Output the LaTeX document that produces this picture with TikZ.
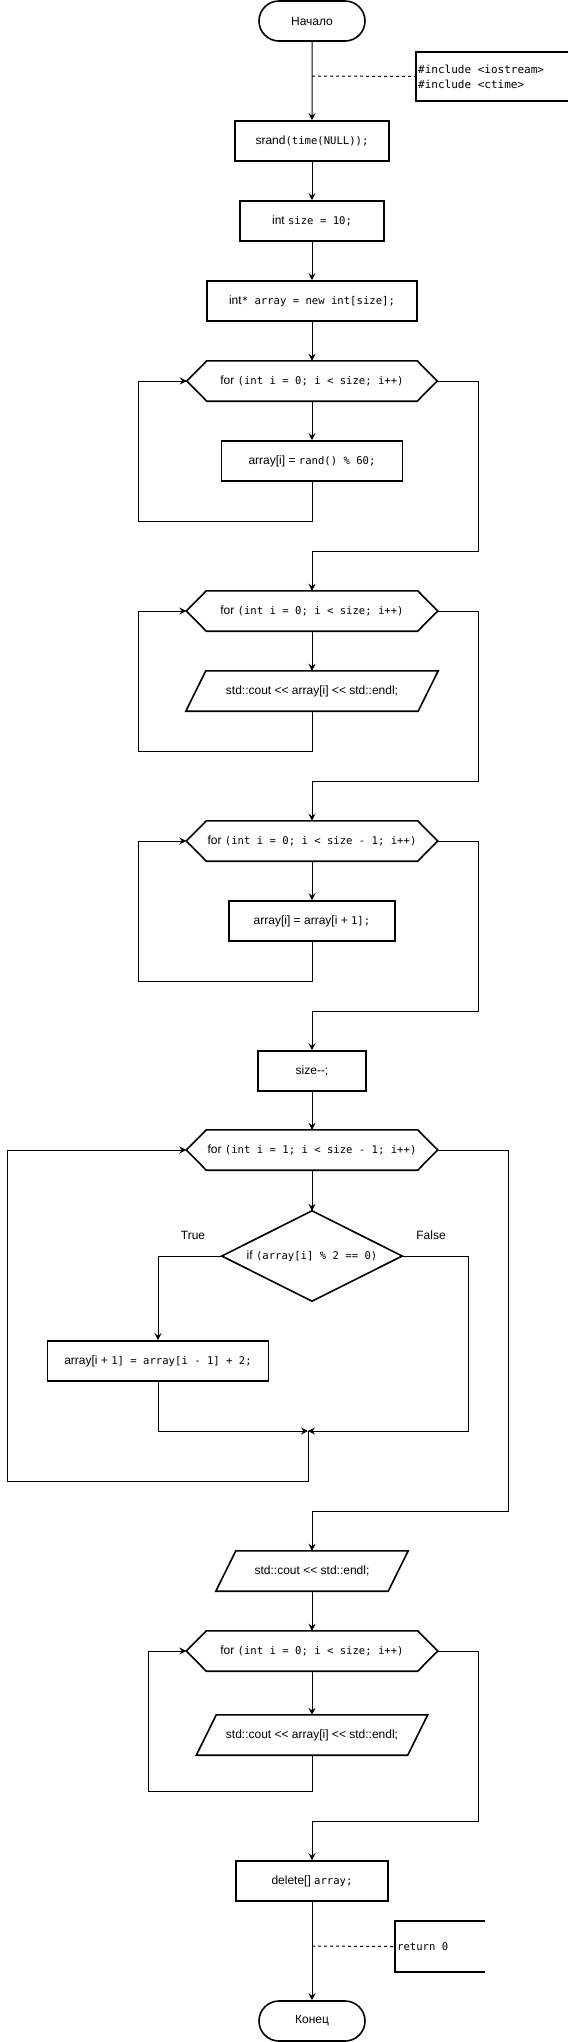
\documentclass[tikz,border=0pt]{standalone}
\usepackage{fontspec}
\setmainfont{Liberation Sans}[Ligatures=TeXOff]
\newfontfamily\cfont{DejaVu Sans Mono}[Ligatures=TeXOff]
\usetikzlibrary{arrows.meta,shapes.misc}
\newcommand{\cd}[1]{{\cfont\fontsize{10.6}{12}\selectfont #1}}
\newcommand{\drawHex}[1]{\draw[shp] (#1.west) -- ([xshift=20pt]#1.north west) -- ([xshift=-20pt]#1.north east) -- (#1.east) -- ([xshift=-20pt]#1.south east) -- ([xshift=20pt]#1.south west) -- cycle;}
\newcommand{\drawPar}[1]{\draw[shp] ([xshift=20pt]#1.north west) -- (#1.north east) -- ([xshift=-20pt]#1.south east) -- (#1.south west) -- cycle;}
\begin{document}
\begin{tikzpicture}[x=1pt,y=-1pt,
  font=\fontsize{12}{14}\selectfont,
  box/.style={draw, line width=1.6pt, minimum height=40pt, inner sep=0pt},
  plain/.style={minimum height=40pt, inner sep=0pt},
  term/.style={draw, rounded rectangle, line width=1.6pt, minimum width=106pt, minimum height=40pt, inner sep=0pt},
  shp/.style={line width=1.6pt, line join=miter},
  conn/.style={line width=1pt, -{Stealth[length=7pt,width=7pt,inset=2.5pt]}},
  wire/.style={line width=1pt},
  note/.style={line width=1pt, dash pattern=on 3pt off 3pt}]
\useasboundingbox (0,0) rectangle (569,2042);

% nodes
\node[term] (start) at (312,21) {Начало};
\node[box, minimum width=154pt] (srand) at (312,141) {srand\cd{(time(NULL));}};
\node[box, minimum width=144pt] (size) at (312,221) {int \cd{size = 10;}};
\node[box, minimum width=210pt] (arr) at (312,301) {int\cd{* array = new int[size];}};
\node[plain, minimum width=250pt] (h1) at (312,381) {for \cd{(int i = 0; i < size; i++)}};
\node[box, minimum width=181pt] (b1) at (312,461) {array[i] = \cd{rand() \% 60;}};
\node[plain, minimum width=251pt] (h2) at (312,611) {for \cd{(int i = 0; i < size; i++)}};
\node[plain, minimum width=252pt] (p1) at (312,691) {std::cout << array[i] << std::endl;};
\node[plain, minimum width=251pt] (h3) at (312,841) {for \cd{(int i = 0; i < size - 1; i++)}};
\node[box, minimum width=166pt] (b3) at (312,921) {array[i] = array[i + \cd{1];}};
\node[box, minimum width=108pt] (sz) at (312,1071) {size--;};
\node[plain, minimum width=251pt] (h4) at (312,1150) {for \cd{(int i = 1; i < size - 1; i++)}};
\node[plain, minimum width=180pt, minimum height=90pt] (dia) at (312,1256) {if \cd{(array[i] \% 2 == 0)}};
\node[box, minimum width=221pt] (bt) at (158,1361) {array[i + \cd{1] = array[i - 1] + 2;}};
\node[plain, minimum width=192pt] (p2) at (312,1571) {std::cout << std::endl;};
\node[plain, minimum width=251pt] (h5) at (312,1651) {for \cd{(int i = 0; i < size; i++)}};
\node[plain, minimum width=231pt] (p3) at (312,1735) {std::cout << array[i] << std::endl;};
\node[box, minimum width=152pt] (del) at (312,1881) {delete[] \cd{array;}};
\node[term] (end) at (312,2021) {Конец};

\node (tl) at (193,1235) {True};
\node (fl) at (431,1235) {False};

% annotations
\node[plain, minimum width=152pt, minimum height=49pt] (inc) at (492,76.5) {};
\node[anchor=west, align=left, inner sep=0pt, font=\cfont\fontsize{11}{15}\selectfont] (inctext) at (418,76.5) {\#include <iostream>\\\#include <ctime>};
\node[plain, minimum width=90pt, minimum height=51pt] (ret) at (440,1946.5) {};
\node[anchor=west, inner sep=0pt, font=\cfont\fontsize{10.6}{12}\selectfont] (rettext) at (397,1946.5) {return 0};

% shapes
\drawHex{h1}
\drawHex{h2}
\drawHex{h3}
\drawHex{h4}
\drawHex{h5}
\drawPar{p1}
\drawPar{p2}
\drawPar{p3}
\draw[shp] (dia.west) -- (dia.north) -- (dia.east) -- (dia.south) -- cycle;
\draw[shp] (inc.north east) -- (inc.north west) -- (inc.south west) -- (inc.south east);
\draw[shp] (ret.north east) -- (ret.north west) -- (ret.south west) -- (ret.south east);

% coordinates
\coordinate (n1) at (312,76);
\coordinate (n2) at (312,1946);
\coordinate (m) at (308,1431);

% connectors
\draw[conn] (start) -- (srand);
\draw[conn] (srand) -- (size);
\draw[conn] (size) -- (arr);
\draw[conn] (arr) -- (h1);
\draw[conn] (h1) -- (b1);
\draw[conn] (b1.south) -- (312,521) -- (138,521) |- (h1.west);
\draw[conn] (h1.east) -- (478,381) -- (478,551) -- (312,551) -- (h2.north);
\draw[conn] (h2) -- (p1);
\draw[conn] (p1.south) -- (312,751) -- (138,751) |- (h2.west);
\draw[conn] (h2.east) -- (478,611) -- (478,781) -- (312,781) -- (h3.north);
\draw[conn] (h3) -- (b3);
\draw[conn] (b3.south) -- (312,981) -- (138,981) |- (h3.west);
\draw[conn] (h3.east) -- (478,841) -- (478,1011) -- (312,1011) -- (sz.north);
\draw[conn] (sz) -- (h4);
\draw[conn] (h4) -- (dia);
\draw[conn] (dia.west) -| (bt.north);
\draw[conn] (bt.south) |- (m);
\draw[conn] (dia.east) -- (468,1256) |- (m);
\draw[conn] (m) -- (308,1481) -- (7,1481) |- (h4.west);
\draw[conn] (h4.east) -- (508,1150) -- (508,1511) -- (312,1511) -- (p2.north);
\draw[conn] (p2) -- (h5);
\draw[conn] (h5) -- (p3);
\draw[conn] (p3.south) -- (312,1791) -- (148,1791) |- (h5.west);
\draw[conn] (h5.east) -- (478,1651) -- (478,1821) -- (312,1821) -- (del.north);
\draw[conn] (del) -- (end);

\draw[note] (n1) -- (inc.west);
\draw[note] (n2) -- (ret.west);
\end{tikzpicture}
\end{document}
